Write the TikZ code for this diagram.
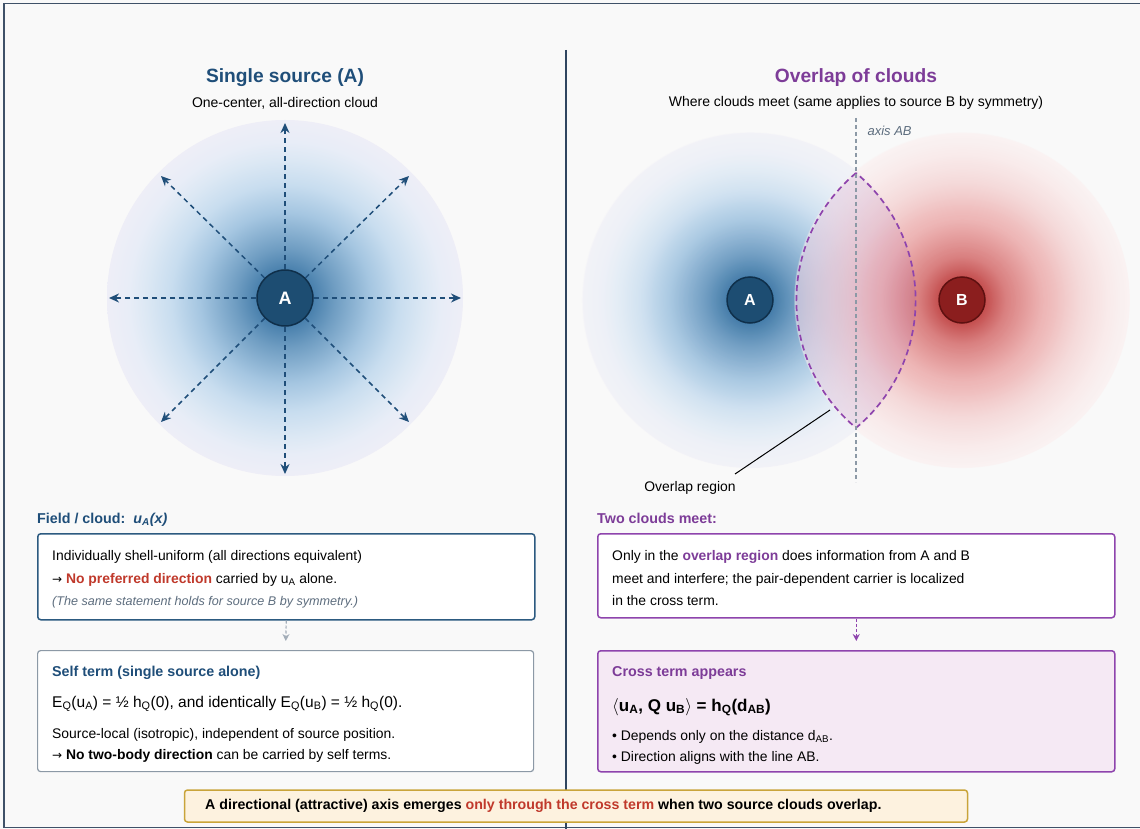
\documentclass[tikz,border=0pt]{standalone}
\usepackage{fontspec}
\setmainfont{Liberation Sans}
\newfontfamily\dejavu{DejaVu Sans}
\usetikzlibrary{arrows.meta,fadings}
\definecolor{bgc}{HTML}{F9F9F9}
\definecolor{framec}{HTML}{3F5168}
\definecolor{divc}{HTML}{2F4560}
\definecolor{blueT}{HTML}{1F4E79}
\definecolor{purpleT}{HTML}{7D3C98}
\definecolor{redT}{HTML}{C0392B}
\definecolor{grayT}{HTML}{5D6D7E}
\definecolor{rayc}{HTML}{1F4E79}
\definecolor{nodeA}{HTML}{1D4D72}
\definecolor{nodeAd}{HTML}{0F2F4A}
\definecolor{nodeB}{HTML}{8B1E1E}
\definecolor{nodeBd}{HTML}{5E1010}
\definecolor{box1c}{HTML}{2C5A80}
\definecolor{box2c}{HTML}{8C99A6}
\definecolor{purpc}{HTML}{8E44AD}
\definecolor{box4f}{HTML}{F5E9F4}
\definecolor{banf}{HTML}{FDF2DF}
\definecolor{banc}{HTML}{C9A43A}
\definecolor{cb0}{HTML}{1F5A8A}
\definecolor{cb1}{HTML}{3D77A6}
\definecolor{cb2}{HTML}{6F9DC2}
\definecolor{cb3}{HTML}{A5C6E1}
\definecolor{cb4}{HTML}{C8DDEF}
\definecolor{cb5}{HTML}{DCE8F4}
\definecolor{cb6}{HTML}{E8EDF7}
\definecolor{cb7}{HTML}{EEEEF7}
\definecolor{cr0}{HTML}{A52424}
\definecolor{cr1}{HTML}{C04545}
\definecolor{cr2}{HTML}{D87C7C}
\definecolor{cr3}{HTML}{EDB0B0}
\definecolor{cr4}{HTML}{F4D0D0}
\definecolor{cr5}{HTML}{F9E6E6}
\definecolor{cr6}{HTML}{FBEFEF}
\pgfdeclareradialshading{cloudblue}{\pgfpoint{0bp}{0bp}}{color(0bp)=(cb0); color(3bp)=(cb1); color(7bp)=(cb2); color(12bp)=(cb3); color(16bp)=(cb4); color(19.5bp)=(cb5); color(22bp)=(cb6); color(25bp)=(cb7); color(50bp)=(cb7)}
\pgfdeclareradialshading{cloudred}{\pgfpoint{0bp}{0bp}}{color(0bp)=(cr0); color(3bp)=(cr1); color(6.5bp)=(cr2); color(12bp)=(cr3); color(17bp)=(cr4); color(22bp)=(cr5); color(25bp)=(cr6); color(50bp)=(cr6)}
\pgfdeclareradialshading{cloudfadeS}{\pgfpoint{0bp}{0bp}}{color(0bp)=(white); color(14bp)=(black!8); color(24.8bp)=(black!40); color(25bp)=(black); color(50bp)=(black)}
\pgfdeclarefading{cloudfade}{\pgfuseshading{cloudfadeS}}
\tikzset{
  fs/.style={font=\fontsize{#1}{#1}\selectfont},
  titletxt/.style={font=\bfseries\fontsize{19.2}{22}\selectfont},
  headtxt/.style={anchor=base west, inner sep=0, font=\bfseries\fontsize{14.3}{17}\selectfont},
  bodytxt/.style={anchor=base west, inner sep=0, font=\fontsize{13.9}{16}\selectfont},
  ray/.style={draw=rayc, dash pattern=on 5pt off 4pt, line width=1.5pt, -{Stealth[length=10pt,width=9pt]}},
  srcnode/.style={circle, line width=1.5pt, text=white, font=\bfseries\fontsize{18}{20}\selectfont, inner sep=0},
  boxA/.style={draw=box1c, fill=white, line width=1.5pt, rounded corners=3pt, anchor=north west, inner sep=0},
  boxB/.style={draw=box2c, fill=white, line width=1.2pt, rounded corners=3pt, anchor=north west, inner sep=0},
  boxC/.style={draw=purpc, fill=white, line width=1.5pt, rounded corners=3pt, anchor=north west, inner sep=0},
  boxD/.style={draw=purpc, fill=box4f, line width=1.5pt, rounded corners=3pt, anchor=north west, inner sep=0},
  linkgray/.style={draw=box2c!80, dash pattern=on 3pt off 2pt, line width=1.2pt, -{Stealth[length=7pt,width=7pt]}, shorten >=9pt},
  linkpurp/.style={draw=purpc, dash pattern=on 3pt off 2pt, line width=1.4pt, -{Stealth[length=7pt,width=7pt]}, shorten >=9pt},
}
\newcommand{\arr}{{\dejavu\fontsize{12}{14}\selectfont →}}
\begin{document}
\begin{tikzpicture}[x=1pt,y=-1pt]
\useasboundingbox (0,0) rectangle (1140,829);
\fill[bgc] (0,0) rectangle (1140,829);
\draw[framec, line width=1.6pt] (1140,3.5) -- (4,3.5) -- (4,827.5) -- (1140,827.5);
\draw[divc, line width=1.6pt] (566,50) -- (566,829);

% ---------- left panel ----------
\node[titletxt, text=blueT] (tA) at (285,78) {Single source (A)};
\node[fs=14] (sA) at (285,103) {One-center, all-direction cloud};
\shade[shading=cloudblue] (285,298) circle[radius=178pt];
\node[srcnode, fill=nodeA, draw=nodeAd, minimum size=56pt] (A1) at (285,298) {A};
\coordinate (e1) at (285,123);
\coordinate (e2) at (409,176);
\coordinate (e3) at (461,298);
\coordinate (e4) at (409,422);
\coordinate (e5) at (285,474);
\coordinate (e6) at (161,422);
\coordinate (e7) at (109,298);
\coordinate (e8) at (161,176);
\foreach \e in {e1,e2,e3,e4,e5,e6,e7,e8} \draw[ray] (A1) -- (\e);

\node[headtxt, text=blueT] (fh) at (37,523) {Field / cloud:\ \ \textit{u\textsubscript{A}(x)}};
\node[boxA, minimum width=497pt, minimum height=86pt] (b1) at (37,533) {};
\node[bodytxt] (b1l1) at (52,560) {Individually shell-uniform (all directions equivalent)};
\node[bodytxt] (b1l2) at (52,583) {\arr\ \textcolor{redT}{\bfseries No preferred direction} carried by u\textsubscript{A} alone.};
\node[bodytxt, text=grayT, font=\itshape\fontsize{12.6}{15}\selectfont] (b1l3) at (52,605) {(The same statement holds for source B by symmetry.)};

\node[boxB, minimum width=496pt, minimum height=121pt] (b2) at (37,650) {};
\draw[linkgray] (b1.south) -- (b2.north);
\node[headtxt, text=blueT] (b2t) at (52,676) {Self term (single source alone)};
\node[bodytxt, font=\fontsize{15.5}{18}\selectfont] (b2e) at (52,707) {E\textsubscript{Q}(u\textsubscript{A}) = ½ h\textsubscript{Q}(0), and identically E\textsubscript{Q}(u\textsubscript{B}) = ½ h\textsubscript{Q}(0).};
\node[bodytxt] (b2l3) at (52,738) {Source-local (isotropic), independent of source position.};
\node[bodytxt] (b2l4) at (52,759) {\arr\ \textbf{No two-body direction} can be carried by self terms.};

% ---------- right panel ----------
\node[titletxt, text=purpleT] (tB) at (856,78) {Overlap of clouds};
\node[fs=14] (sB) at (856,103) {Where clouds meet (same applies to source B by symmetry)};
\shade[shading=cloudblue, path fading=cloudfade] (750,300) circle[radius=168pt];
\shade[shading=cloudred, path fading=cloudfade] (962,300) circle[radius=168pt];
\fill[purpc, opacity=0.1] (856,173) arc[start angle=129.85, end angle=230.15, radius=166pt] arc[start angle=-50.15, end angle=50.15, radius=166pt] -- cycle;
\draw[purpc, line width=1.7pt, dash pattern=on 6pt off 4pt] (856,173) arc[start angle=129.85, end angle=230.15, radius=166pt] arc[start angle=-50.15, end angle=50.15, radius=166pt];
\coordinate (ax1) at (856,118);
\coordinate (ax2) at (856,482);
\draw[box2c, line width=1.2pt, dash pattern=on 4pt off 3pt] (ax1) -- (ax2);
\node[anchor=west, text=grayT, font=\itshape\fontsize{13}{15}\selectfont] (axl) at (864,131) {axis AB};
\node[srcnode, fill=nodeA, draw=nodeAd, minimum size=46pt, font=\bfseries\fontsize{16}{18}\selectfont] (A2) at (750,300) {A};
\node[srcnode, fill=nodeB, draw=nodeBd, minimum size=46pt, font=\bfseries\fontsize{16}{18}\selectfont] (B2) at (962,300) {B};
\node[fs=13.9] (olab) at (690,488) {Overlap region};
\coordinate (ol1) at (830,410);
\coordinate (ol2) at (735,474);
\draw[black, line width=1pt] (ol1) -- (ol2);

\node[headtxt, text=purpleT] (tcm) at (597,523) {Two clouds meet:};
\node[boxC, minimum width=517pt, minimum height=84pt] (b3) at (597,533) {};
\node[bodytxt] (b3l1) at (612,560) {Only in the \textcolor{purpleT}{\bfseries overlap region} does information from A and B};
\node[bodytxt] (b3l2) at (612,583) {meet and interfere; the pair-dependent carrier is localized};
\node[bodytxt] (b3l3) at (612,605) {in the cross term.};

\node[boxD, minimum width=517pt, minimum height=121pt] (b4) at (597,650) {};
\draw[linkpurp] (b3.south) -- (b4.north);
\node[headtxt, text=purpleT] (b4t) at (612,676) {Cross term appears};
\node[bodytxt, font=\bfseries\fontsize{17}{20}\selectfont] (b4e) at (612,711) {$\langle$u\textsubscript{A}, Q u\textsubscript{B}$\rangle$ = h\textsubscript{Q}(d\textsubscript{AB})};
\node[bodytxt] (b4l3) at (612,740) {\textbullet\ Depends only on the distance d\textsubscript{AB}.};
\node[bodytxt] (b4l4) at (612,761) {\textbullet\ Direction aligns with the line AB.};

% ---------- banner ----------
\node[draw=banc, fill=banf, line width=1.5pt, rounded corners=3pt, minimum width=783pt, minimum height=32pt, inner sep=0] (ban) at (576,806) {};
\node[anchor=west, inner sep=0, font=\bfseries\fontsize{14.2}{17}\selectfont] (bant) at (205,806) {A directional (attractive) axis emerges \textcolor{redT}{only through the cross term} when two source clouds overlap.};
\end{tikzpicture}
\end{document}
